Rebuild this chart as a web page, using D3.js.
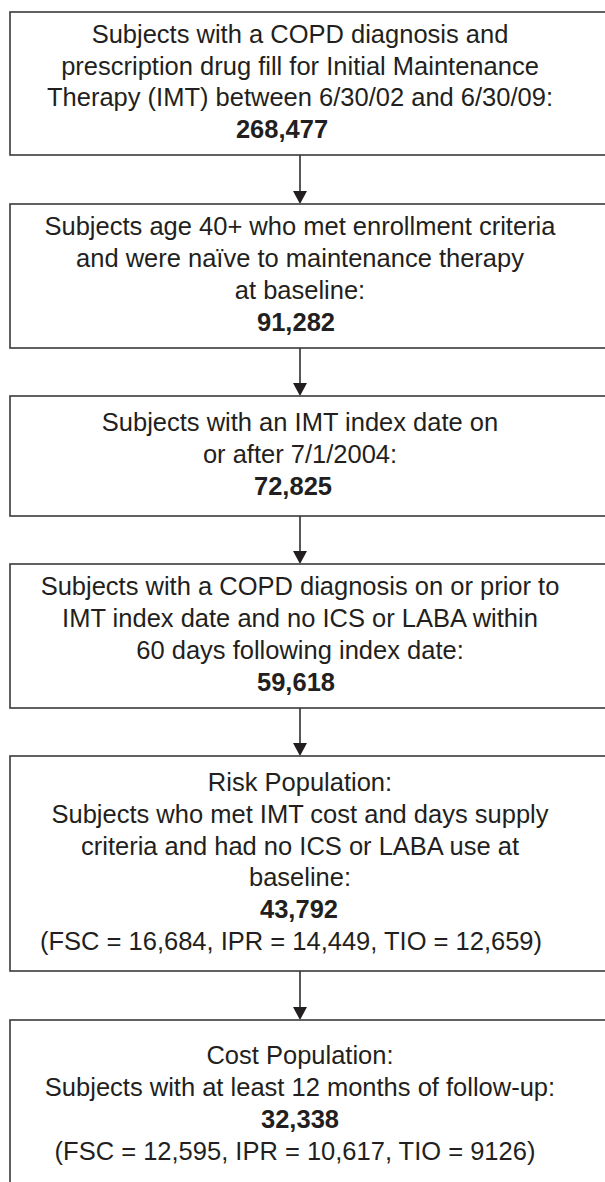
<!DOCTYPE html>
<html>
<head>
<meta charset="utf-8">
<script src="https://cdn.jsdelivr.net/npm/d3@7"></script>
<style>
  html, body { margin: 0; padding: 0; background: #ffffff; }
  svg { display: block; }
</style>
</head>
<body>
<div id="chart"></div>
<script>
// ---------- data ----------
const stepLabels = [
  ["Subjects with a COPD diagnosis and", "prescription drug fill for Initial Maintenance", "Therapy (IMT) between 6/30/02 and 6/30/09:"],
  ["Subjects age 40+ who met enrollment criteria", "and were naïve to maintenance therapy", "at baseline:"],
  ["Subjects with an IMT index date on", "or after 7/1/2004:"],
  ["Subjects with a COPD diagnosis on or prior to", "IMT index date and no ICS or LABA within", "60 days following index date:"],
  ["Risk Population:", "Subjects who met IMT cost and days supply", "criteria and had no ICS or LABA use at", "baseline:"],
  ["Cost Population:", "Subjects with at least 12 months of follow-up:"]
];
const stepCounts = [268477, 91282, 72825, 59618, 43792, 32338];
const drugGroups = ["FSC", "IPR", "TIO"];
const riskSplit = [16684, 14449, 12659];
const costSplit = [12595, 10617, 9126];
const splitByStep = [null, null, null, null, riskSplit, costSplit];

// ---------- layout ----------
const W = 605, H = 1182;
const boxX = 10, boxW = 610;      // right edge runs off the page
const cx = 300;
const boxTop = [12, 204, 396, 564, 756, 1020];
const boxH = [143, 144, 120, 144, 215, 170];
const countDx = [-18, -4, -7, -4, -1, 0];
const splitDx = [0, 0, 0, 0, -9, -5];
const lineH = 31.8;
const fontSize = 25.5;
const ink = "#231f20";
const headW = 14, headH = 13;

const fmtComma = d3.format(",");
const fmtCount = v => v >= 10000 ? fmtComma(v) : String(v);

const svg = d3.select("#chart").append("svg")
  .attr("width", W).attr("height", H)
  .attr("viewBox", `0 0 ${W} ${H}`);

const steps = stepLabels.map((lines, i) => {
  const all = lines.map(t => ({ text: t, bold: false, dx: 0 }));
  all.push({ text: fmtComma(stepCounts[i]), bold: true, dx: countDx[i] });
  if (splitByStep[i]) {
    all.push({
      text: "(" + drugGroups.map((g, k) => `${g} = ${fmtCount(splitByStep[i][k])}`).join(", ") + ")",
      bold: false,
      dx: splitDx[i]
    });
  }
  return { i, lines: all, top: boxTop[i], h: boxH[i] };
});

// arrows
const arrows = svg.selectAll("g.arrow")
  .data(steps.slice(1))
  .join("g")
  .attr("class", "arrow");

arrows.append("line")
  .attr("x1", cx).attr("x2", cx)
  .attr("y1", d => steps[d.i - 1].top + steps[d.i - 1].h)
  .attr("y2", d => d.top - headH + 1)
  .attr("stroke", ink)
  .attr("stroke-width", 1.5);

arrows.append("path")
  .attr("d", d => `M${cx - headW / 2},${d.top - headH} L${cx + headW / 2},${d.top - headH} L${cx},${d.top} Z`)
  .attr("fill", ink);

const g = svg.selectAll("g.step")
  .data(steps)
  .join("g")
  .attr("class", "step");

g.append("rect")
  .attr("x", boxX)
  .attr("y", d => d.top)
  .attr("width", boxW)
  .attr("height", d => d.h)
  .attr("fill", "none")
  .attr("stroke", "#3a3a3a")
  .attr("stroke-width", 1.6);

g.each(function(d) {
  const n = d.lines.length;
  const center = d.top + d.h / 2;
  const first = center - (n - 1) * lineH / 2 + 7;
  d3.select(this).selectAll("text")
    .data(d.lines)
    .join("text")
    .attr("x", l => cx + l.dx)
    .attr("y", (l, k) => first + k * lineH)
    .attr("text-anchor", "middle")
    .attr("font-family", "'Liberation Sans', Arial, Helvetica, sans-serif")
    .attr("font-size", fontSize)
    .attr("font-weight", l => l.bold ? "bold" : "normal")
    .attr("fill", ink)
    .text(l => l.text);
});
</script>
</body>
</html>
